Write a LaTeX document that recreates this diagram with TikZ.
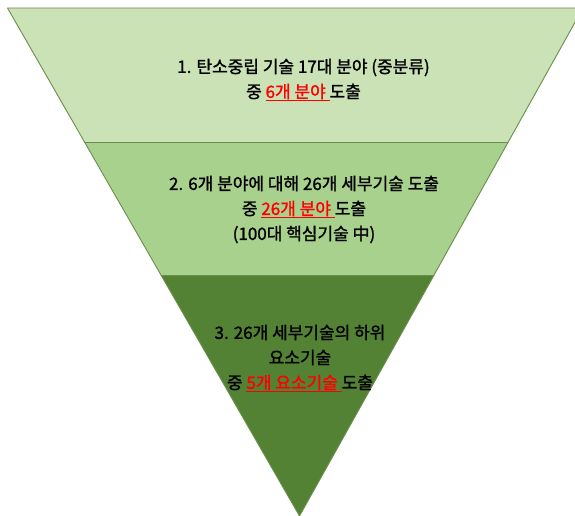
\documentclass[tikz,border=0pt]{standalone}
\usepackage{fontspec}
\newfontfamily\kr{Noto Sans CJK KR}[FakeBold=1.4]
\definecolor{bandA}{HTML}{CAE2B6}
\definecolor{bandB}{HTML}{A9D18E}
\definecolor{bandC}{HTML}{548235}
\definecolor{edgeG}{HTML}{6A8F4C}
\definecolor{hl}{HTML}{FF0000}
\newcommand\hlu[1]{\textcolor{hl}{\underline{#1}}}
\begin{document}
\begin{tikzpicture}[x=1pt,y=-1pt,
  band/.style={draw=edgeG,line width=0.9pt,line join=round},
  lbl/.style={align=center,font=\kr\fontsize{17}{25}\selectfont,text=black,inner sep=0pt}]
\useasboundingbox (0,0) rectangle (575,516);
\clip (0,0) rectangle (575,516);
% corners
\coordinate (TL) at (7.5,8);
\coordinate (TR) at (583,8);
\coordinate (AP) at (299.5,516);
\coordinate (L1) at (84.5,142);
\coordinate (R1) at (508.2,142);
\coordinate (L2) at (161,275);
\coordinate (R2) at (434.4,275);
\fill[bandA] (TL) -- (TR) -- (R1) -- (L1) -- cycle;
\fill[bandB] (L1) -- (R1) -- (R2) -- (L2) -- cycle;
\fill[bandC] (L2) -- (R2) -- (AP) -- cycle;
\draw[band] (TL) -- (TR) -- (AP) -- cycle;
\draw[band] (L1) -- (R1);
\draw[band] (L2) -- (R2);
\node[lbl] (t1) at (303.5,80) {1. 탄소중립 기술 17대 분야 (중분류)\\중 \hlu{6개 분야\ }도출};
\node[lbl] (t2) at (304,209.5) {2. 6개 분야에 대해 26개 세부기술 도출\\중 \hlu{26개 분야\ }도출\\(100대 핵심기술 中)};
\node[lbl] (t3) at (300,358.5) {3. 26개 세부기술의 하위\\요소기술\\중 \hlu{5개 요소기술\ }도출};
\end{tikzpicture}
\end{document}
